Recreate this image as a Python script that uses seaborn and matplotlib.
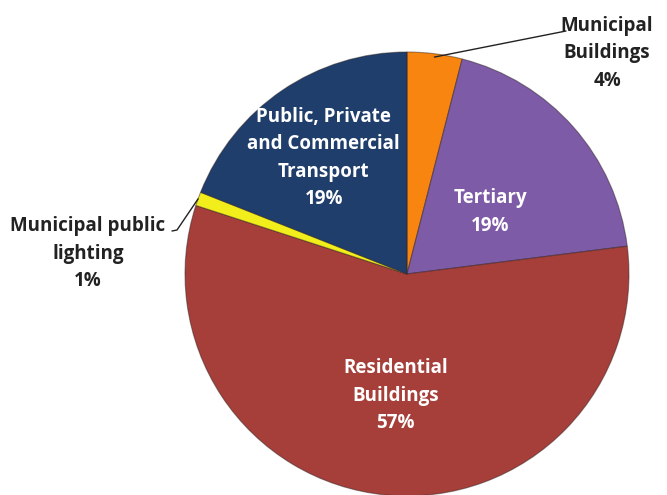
import numpy as np
import matplotlib
matplotlib.use("Agg")
import matplotlib.pyplot as plt
import seaborn as sns

# Energy consumption shares by sector
sectors = ["Municipal\nBuildings", "Tertiary", "Residential\nBuildings",
           "Municipal public\nlighting", "Public, Private\nand Commercial\nTransport"]
shares = [4, 19, 57, 1, 19]
colors = ["#F7850F", "#7D5BA6", "#A63F3A", "#F2EE1C", "#1F3E6C"]

sns.set_theme(style="white")
plt.rcParams["font.family"] = ["Open Sans", "DejaVu Sans"]

W, H = 667, 495
fig = plt.figure(figsize=(W / 100, H / 100), dpi=100)
ax = fig.add_axes([0, 0, 1, 1])

cx, cy, r = 407, H - 274, 222
wedges, _ = ax.pie(shares, colors=colors, startangle=90, counterclock=False,
                   center=(cx, cy), radius=r, frame=True,
                   wedgeprops=dict(edgecolor=(0.15, 0.1, 0.1, 0.45), linewidth=0.8))
ax.set_xlim(0, W)
ax.set_ylim(0, H)
ax.set_aspect("equal")
ax.axis("off")


def mid_angle(w):
    return np.deg2rad((w.theta1 + w.theta2) / 2)


label_text = [f"{s}\n{v}%" for s, v in zip(sectors, shares)]
fs = 13.5
ls = 1.5

# Inside labels (white), placed along each wedge's bisector
inside = {1: 0.41, 2: 0.55, 4: 0.66}
nudges = {1: (15, 2), 2: (0, 0), 4: (-1, -5)}
for i, frac in inside.items():
    a = mid_angle(wedges[i])
    x = cx + frac * r * np.cos(a) + nudges[i][0]
    y = cy + frac * r * np.sin(a) + nudges[i][1]
    ax.text(x, y, label_text[i], ha="center", va="center", color="white",
            fontsize=fs, fontweight="bold", linespacing=ls)

# Outside labels with leader lines
ax.text(607, H - 53, label_text[0], ha="center", va="center", color="#222222",
        fontsize=fs, fontweight="bold", linespacing=ls)
a0 = mid_angle(wedges[0])
ax.plot([cx + 0.985 * r * np.cos(a0), 566], [cy + 0.985 * r * np.sin(a0), H - 31],
        color="#222222", lw=1.0)

ax.text(88, H - 254, label_text[3], ha="center", va="center", color="#222222",
        fontsize=fs, fontweight="bold", linespacing=ls)
a3 = mid_angle(wedges[3])
ax.plot([172, 177, cx + r * np.cos(a3)], [H - 231, H - 230, cy + r * np.sin(a3)],
        color="#222222", lw=1.0)

fig.savefig("out.png", dpi=100, facecolor="white")
